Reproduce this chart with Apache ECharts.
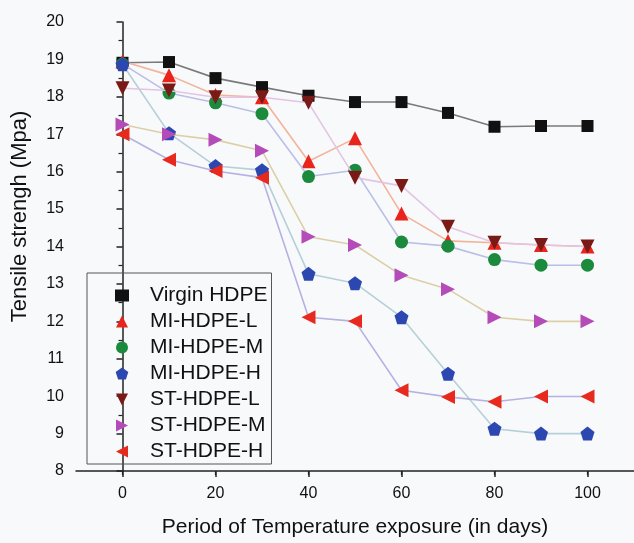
<!DOCTYPE html>
<html>
<head>
<meta charset="utf-8">
<script src="https://cdn.jsdelivr.net/npm/echarts@6/dist/echarts.min.js"></script>
<style>
  html, body { margin: 0; padding: 0; background: #f8f9fb; }
  #chart { width: 634px; height: 543px; }
</style>
</head>
<body>
<div id="chart"></div>
<script>
// exposure days
var days = [0, 10, 20, 30, 40, 50, 60, 70, 80, 90, 100];

// tensile strength (Mpa) per sample
var virginHDPE = [18.91, 18.93, 18.5, 18.26, 18.03, 17.86, 17.86, 17.57, 17.2, 17.22, 17.22];
var miHdpeL    = [18.95, 18.58, 18.05, 17.99, 16.28, 16.89, 14.88, 14.15, 14.1, 14.04, 14.0];
var miHdpeM    = [18.88, 18.1, 17.84, 17.55, 15.87, 16.04, 14.12, 14.01, 13.65, 13.5, 13.5];
var miHdpeH    = [18.87, 17.03, 16.15, 16.04, 13.27, 13.02, 12.11, 10.6, 9.13, 9.0, 9.0];
var stHdpeL    = [18.23, 18.17, 17.99, 17.99, 17.84, 15.84, 15.62, 14.53, 14.1, 14.04, 14.0];
var stHdpeM    = [17.26, 17.0, 16.85, 16.56, 14.26, 14.04, 13.23, 12.86, 12.11, 12.0, 12.0];
var stHdpeH    = [17.0, 16.32, 16.02, 15.84, 12.11, 12.0, 10.16, 9.98, 9.85, 9.99, 9.99];

var seriesNames = ['Virgin HDPE', 'MI-HDPE-L', 'MI-HDPE-M', 'MI-HDPE-H', 'ST-HDPE-L', 'ST-HDPE-M', 'ST-HDPE-H'];

(function(){
    var FONT = 'Liberation Sans, Arial, sans-serif';
    var sym = {
        square: 'rect',
        up: 'path://M0,-1 L1,1 L-1,1 Z',
        circle: 'circle',
        pent: 'path://M0,-1 L0.951,-0.309 L0.588,0.809 L-0.588,0.809 L-0.951,-0.309 Z',
        down: 'path://M-1,-1 L1,-1 L0,1 Z',
        right: 'path://M-1,-1 L1,0 L-1,1 Z',
        left: 'path://M1,-1 L-1,0 L1,1 Z'
    };
    var defs = [
        {data: virginHDPE, symbol: sym.square, size: 12, color: '#111111', line: '#7a7a7a'},
        {data: miHdpeL, symbol: sym.up, size: 14, color: '#e8241c', line: '#f3b39a'},
        {data: miHdpeM, symbol: sym.circle, size: 13, color: '#1b8a3c', line: '#b9bfe6'},
        {data: miHdpeH, symbol: sym.pent, size: 14, color: '#2c47b0', line: '#b5d0d8'},
        {data: stHdpeL, symbol: sym.down, size: 14, color: '#7a1a16', line: '#e3c4e4'},
        {data: stHdpeM, symbol: sym.right, size: 14, color: '#b44bb8', line: '#dccfa8'},
        {data: stHdpeH, symbol: sym.left, size: 14, color: '#e82a1e', line: '#b4b2e0'}
    ];

    var chart = echarts.init(document.getElementById('chart'));
    var option = {
        backgroundColor: '#f8f9fb',
        animation: false,
        grid: {left: 76, top: 22, width: 560, height: 456},
        legend: {
            left: 87, top: 273,
            orient: 'vertical',
            padding: [12, 4, 2, 28],
            itemWidth: 14, itemHeight: 12, itemGap: 5,
            borderColor: '#555', borderWidth: 1,
            textStyle: {fontFamily: FONT, fontSize: 21, color: '#111', lineHeight: 21, padding: [0, 0, 0, 16]},
            data: seriesNames.map(function(n, i){
                return {name: n, icon: defs[i].symbol};
            })
        },
        xAxis: {
            type: 'value', min: -10, max: 110, interval: 20,
            name: 'Period of Temperature exposure (in days)',
            nameLocation: 'middle', nameGap: 46,
            nameTextStyle: {fontFamily: FONT, fontSize: 21, color: '#111'},
            axisLine: {show: true, onZero: false, lineStyle: {color: '#222', width: 1.5}},
            axisTick: {show: true, length: 6, lineStyle: {color: '#222', width: 1.5}, customValues: [0, 20, 40, 60, 80, 100]},
            minorTick: {show: true, splitNumber: 2, length: 4, lineStyle: {color: '#222', width: 1.2}},
            axisLabel: {fontFamily: FONT, fontSize: 16, color: '#111', margin: 15, customValues: [0, 20, 40, 60, 80, 100]},
            splitLine: {show: false}
        },
        yAxis: {
            type: 'value', min: 8, max: 20, interval: 1,
            name: 'Tensile strengh (Mpa)',
            nameLocation: 'middle', nameGap: 45, nameRotate: 90,
            nameTextStyle: {fontFamily: FONT, fontSize: 22, color: '#111', padding: [0, 0, 0, 60]},
            axisLine: {show: true, lineStyle: {color: '#222', width: 1.5}},
            axisTick: {show: true, length: 6, lineStyle: {color: '#222', width: 1.5}},
            minorTick: {show: true, splitNumber: 2, length: 4, lineStyle: {color: '#222', width: 1.2}},
            axisLabel: {fontFamily: FONT, fontSize: 16, color: '#111', margin: 12},
            splitLine: {show: false}
        },
        series: defs.map(function(d, i){
            return {
                name: seriesNames[i],
                type: 'line',
                data: d.data.map(function(v, j){ return [days[j], v]; }),
                symbol: d.symbol,
                symbolSize: d.size,
                itemStyle: {color: d.color},
                lineStyle: {color: d.line, width: 1.6},
                z: 2 + i
            };
        })
    };
    chart.setOption(option);
}());
</script>
</body>
</html>
